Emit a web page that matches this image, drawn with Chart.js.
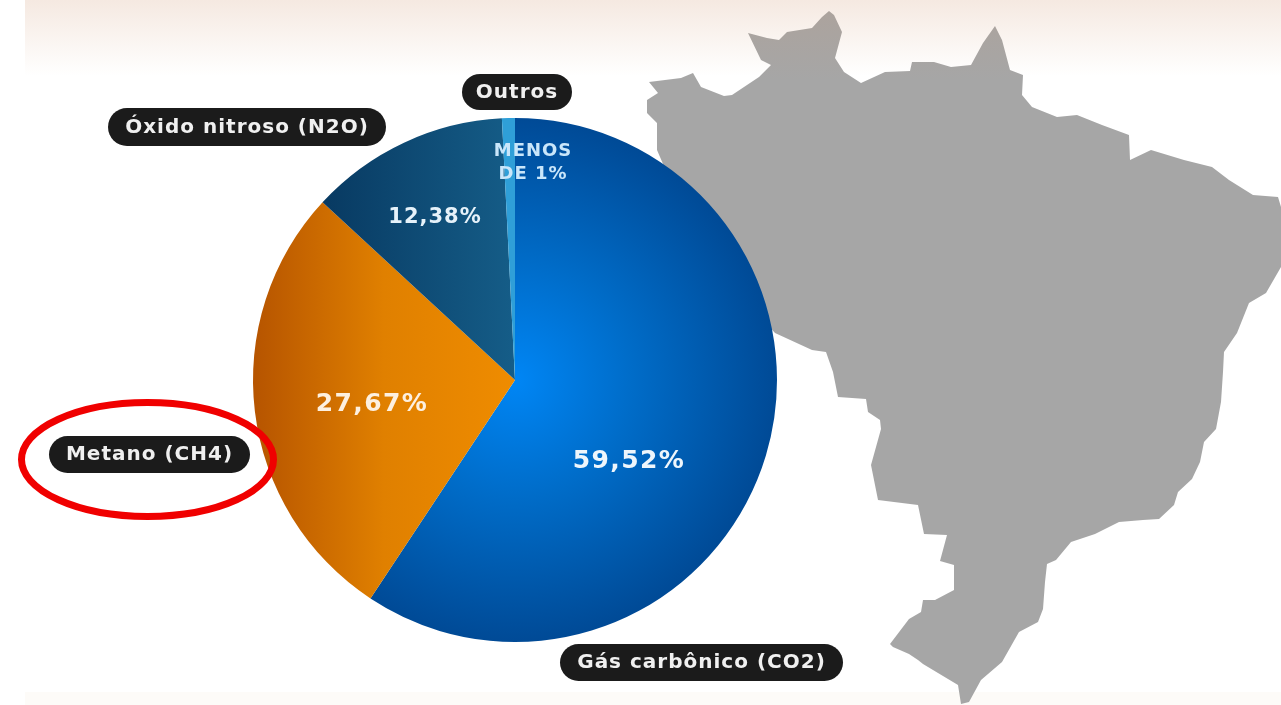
<!DOCTYPE html>
<html lang="pt-BR">
<head>
<meta charset="utf-8">
<title>Emissões por gás</title>
<script src="https://cdn.jsdelivr.net/npm/chart.js@4/dist/chart.umd.min.js"></script>
<style>
  html, body { margin: 0; padding: 0; background: #fff; overflow: hidden; }
  canvas { display: block; filter: blur(0.5px); }
</style>
</head>
<body>
<canvas id="gasChart" width="1281" height="705"></canvas>
<script>
const categories = ['Gás carbônico (CO2)', 'Metano (CH4)', 'Óxido nitroso (N2O)', 'Outros'];
const shares = [59.52, 27.67, 12.38, 0.8]; // "menos de 1%": sliver width
const shareLabels = [['59,52%'], ['27,67%'], ['12,38%'], ['MENOS', 'DE 1%']];

// label styling, same order as categories
const shareSpots = [
  { dx: 114, dy: 81, size: 25, spacing: 1.4, color: '#eef6fc' },
  { dx: -143, dy: 24, size: 25, spacing: 1.4, color: '#fdf0e0' },
  { dx: -80, dy: -162, size: 21, spacing: 1, color: '#e6f2fa' },
  { dx: 18, dy: -217, size: 18, spacing: 1, color: '#c9e6fa' }
];
const pills = [
  { x: 560, y: 644, w: 283, h: 37 },
  { x: 49, y: 436, w: 201, h: 37 },
  { x: 108, y: 108, w: 278, h: 38 },
  { x: 462, y: 74, w: 110, h: 36 }
];

// map outline, backdrop only (goes under the pie)
const brazilOutline = [
  [649,82],[681,78],[693,73],[701,87],[724,96],[732,95],[759,77],[771,65],[761,60],[748,33],
  [767,38],[779,40],[787,32],[812,28],[822,17],[829,11],[834,15],[842,32],[835,58],[844,72],
  [861,83],[885,72],[910,71],[912,62],[934,62],[951,67],[971,65],[983,43],[995,26],[1002,40],
  [1010,70],[1023,75],[1022,95],[1032,107],[1057,117],[1077,115],[1102,125],[1129,135],[1130,160],
  [1151,150],[1184,160],[1212,167],[1229,180],[1253,195],[1278,197],[1281,207],[1281,267],[1266,293],
  [1249,303],[1237,333],[1224,352],[1223,372],[1221,402],[1216,429],[1204,442],[1200,462],[1192,479],
  [1178,492],[1174,505],[1159,519],[1143,520],[1119,522],[1095,534],[1071,542],[1056,560],[1047,564],
  [1045,582],[1043,609],[1038,622],[1019,632],[1002,662],[981,680],[969,702],[961,704],[958,685],
  [923,664],[918,660],[909,654],[893,647],[890,644],[909,619],[921,612],[923,600],[935,600],[954,590],
  [954,565],[940,561],[947,535],[924,534],[918,505],[878,500],[871,465],[881,429],[880,420],[868,412],
  [866,399],[838,397],[833,372],[826,352],[812,350],[775,333],[700,250],[657,150],[657,123],[647,113],
  [647,100],[658,93]
];

const FONT = '"DejaVu Sans", Verdana, sans-serif';

function sliceFill(ctx) {
  const chart = ctx.chart;
  const area = chart.chartArea;
  if (!area) return '#0060b0';
  const c = chart.ctx;
  const cx = (area.left + area.right) / 2;
  const cy = (area.top + area.bottom) / 2;
  const r = Math.min(area.width, area.height) / 2;
  let g;
  if (ctx.dataIndex === 0) {
    g = c.createRadialGradient(cx, cy, 0, cx, cy, r);
    g.addColorStop(0, '#0086f5');
    g.addColorStop(0.45, '#006cc8');
    g.addColorStop(1, '#004a96');
  } else if (ctx.dataIndex === 1) {
    g = c.createLinearGradient(cx - r, 0, cx, 0);
    g.addColorStop(0, '#b65400');
    g.addColorStop(0.5, '#e08000');
    g.addColorStop(1, '#ef8c00');
  } else if (ctx.dataIndex === 2) {
    g = c.createLinearGradient(cx - 190, 0, cx, 0);
    g.addColorStop(0, '#083a62');
    g.addColorStop(1, '#155d88');
  } else {
    return '#2f9fd8';
  }
  return g;
}

function drawPill(c, p, text) {
  c.fillStyle = '#1b1b1b';
  c.beginPath();
  c.roundRect(p.x, p.y, p.w, p.h, p.h / 2);
  c.fill();
  c.fillStyle = '#f0f0f0';
  c.font = 'bold 20px ' + FONT;
  c.letterSpacing = '1px';
  c.textAlign = 'center';
  c.textBaseline = 'middle';
  c.fillText(text, p.x + p.w / 2, p.y + p.h / 2 + 0.5);
}

const backdropPlugin = {
  id: 'backdrop',
  beforeDraw(chart) {
    const c = chart.ctx;
    c.save();
    let g = c.createLinearGradient(0, 0, 0, 76);
    g.addColorStop(0, '#f5e9e1');
    g.addColorStop(1, '#ffffff');
    c.fillStyle = g;
    c.fillRect(25, 0, 1256, 76);
    c.fillStyle = '#fdfbf8';
    c.fillRect(25, 692, 1256, 13);

    // map
    g = c.createLinearGradient(0, 10, 0, 80);
    g.addColorStop(0, '#aca39d');
    g.addColorStop(1, '#a6a6a6');
    c.fillStyle = g;
    c.beginPath();
    brazilOutline.forEach((pt, i) => i ? c.lineTo(pt[0], pt[1]) : c.moveTo(pt[0], pt[1]));
    c.closePath();
    c.fill();
    c.restore();
  },
  afterDraw(chart) {
    const c = chart.ctx;
    const arcs = chart.getDatasetMeta(0).data;
    c.save();
    // percentages on the slices
    shareLabels.forEach((lines, i) => {
      const s = shareSpots[i];
      c.fillStyle = s.color;
      c.font = 'bold ' + s.size + 'px ' + FONT;
      c.letterSpacing = s.spacing + 'px';
      c.textAlign = 'center';
      c.textBaseline = 'middle';
      const lh = s.size + 5;
      lines.forEach((line, k) => {
        const y = arcs[i].y + s.dy + (k - (lines.length - 1) / 2) * lh;
        c.fillText(line, arcs[i].x + s.dx, y);
      });
    });
    // category names
    categories.forEach((name, i) => drawPill(c, pills[i], name));
    // red highlight round Metano
    c.strokeStyle = '#f00000';
    c.lineWidth = 7;
    c.beginPath();
    c.ellipse(147.5, 459.5, 126, 57, 0, 0, Math.PI * 2);
    c.stroke();
    c.restore();
  }
};

new Chart(document.getElementById('gasChart').getContext('2d'), {
  type: 'pie',
  data: {
    labels: categories,
    datasets: [{
      data: shares,
      backgroundColor: sliceFill,
      borderWidth: 0
    }]
  },
  options: {
    responsive: false,
    animation: false,
    layout: { padding: { left: 253, right: 504, top: 118, bottom: 63 } },
    plugins: {
      legend: { display: false },
      tooltip: { enabled: false }
    },
    events: []
  },
  plugins: [backdropPlugin]
});
</script>
</body>
</html>
